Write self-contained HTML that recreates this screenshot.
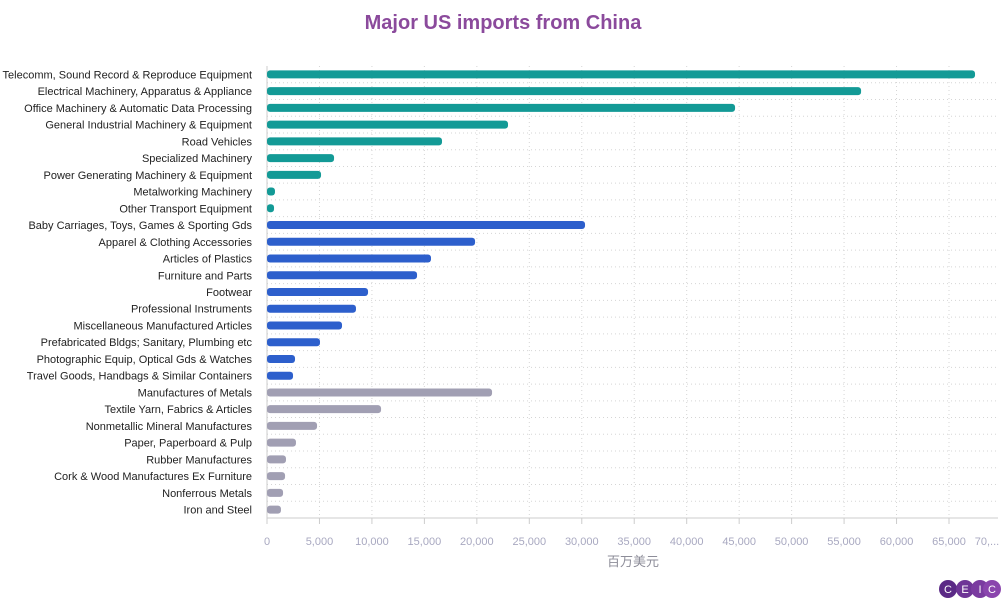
<!DOCTYPE html>
<html><head><meta charset="utf-8"><style>
body{margin:0;background:#fff;width:1003px;height:601px;overflow:hidden;font-family:"Liberation Sans","Noto Sans CJK SC",sans-serif}
</style></head><body>
<svg id="chart" width="1003" height="601">
<text x="503" y="29" text-anchor="middle" font-size="20" font-weight="bold" fill="#8b4a9c">Major US imports from China</text>
<text x="633" y="566" text-anchor="middle" font-size="13" fill="#8d8d99" font-family="'Liberation Sans','Noto Sans CJK SC',sans-serif">百万美元</text>
<g>
<circle cx="948" cy="589" r="9" fill="#5b2a86"/><circle cx="965" cy="589" r="9" fill="#6e3596"/><circle cx="980" cy="589" r="9" fill="#7a3ba0"/><circle cx="992" cy="589" r="9" fill="#8a45ad"/>
<text x="948" y="593" font-size="11" fill="#fff" text-anchor="middle">C</text><text x="965" y="593" font-size="11" fill="#fff" text-anchor="middle">E</text><text x="980" y="593" font-size="11" fill="#fff" text-anchor="middle">I</text><text x="992" y="593" font-size="11" fill="#fff" text-anchor="middle">C</text>
</g>
</svg>
<script>
const categories=["Telecomm, Sound Record & Reproduce Equipment","Electrical Machinery, Apparatus & Appliance","Office Machinery & Automatic Data Processing","General Industrial Machinery & Equipment","Road Vehicles","Specialized Machinery","Power Generating Machinery & Equipment","Metalworking Machinery","Other Transport Equipment","Baby Carriages, Toys, Games & Sporting Gds","Apparel & Clothing Accessories","Articles of Plastics","Furniture and Parts","Footwear","Professional Instruments","Miscellaneous Manufactured Articles","Prefabricated Bldgs; Sanitary, Plumbing etc","Photographic Equip, Optical Gds & Watches","Travel Goods, Handbags & Similar Containers","Manufactures of Metals","Textile Yarn, Fabrics & Articles","Nonmetallic Mineral Manufactures","Paper, Paperboard & Pulp","Rubber Manufactures","Cork & Wood Manufactures Ex Furniture","Nonferrous Metals","Iron and Steel"];
const values=[67480,56620,44610,22970,16680,6390,5150,760,670,30310,19830,15630,14300,9630,8480,7150,5050,2670,2480,21450,10870,4770,2760,1810,1720,1530,1330];
const groups=[0,0,0,0,0,0,0,0,0,1,1,1,1,1,1,1,1,1,1,2,2,2,2,2,2,2,2];
const groupColors=["#139a96","#2d5fcc","#a19fb3"];
const ticks=[0,5000,10000,15000,20000,25000,30000,35000,40000,45000,50000,55000,60000,65000,70000];
const tickLabels=["0","5,000","10,000","15,000","20,000","25,000","30,000","35,000","40,000","45,000","50,000","55,000","60,000","65,000","70,..."];
(function(){
const NS="http://www.w3.org/2000/svg",svg=document.getElementById('chart');
const x0=267,xR=998,pTop=66,axisY=518,pxPer=(949-267)/65000;
const X=v=>x0+v*pxPer;
const step=(axisY-pTop)/categories.length;
const Y=i=>pTop+step*(i+0.5);
function mk(t,a){const e=document.createElementNS(NS,t);for(const k in a)e.setAttribute(k,a[k]);svg.appendChild(e);return e;}
ticks.forEach((t,i)=>{
  const x=X(t);
  if(i>0&&x<=xR){const g=mk('line',{x1:x,x2:x,y1:pTop,y2:axisY,stroke:'#d5d5d5','stroke-dasharray':'1,3'});
  
  }
  if(x<=xR){const tk=mk('line',{x1:x,x2:x,y1:axisY,y2:axisY+6,stroke:'#ccc'});
  
  }
  const lx=Math.min(x,987);
  const l=mk('text',{x:lx,y:545,'text-anchor':'middle','font-size':11,fill:'#a8a8c0'});l.textContent=tickLabels[i];
  
  
});
for(let i=1;i<categories.length;i++){const y=pTop+step*i;const g=mk('line',{x1:x0,x2:xR,y1:y,y2:y,stroke:'#d5d5d5','stroke-dasharray':'1,3'});

}
const ax=mk('line',{x1:x0,x2:x0,y1:pTop,y2:axisY,stroke:'#ccc'});


const ax2=mk('line',{x1:x0,x2:xR,y1:axisY,y2:axisY,stroke:'#ccc'});


categories.forEach((c,i)=>{
  const y=Y(i);
  const l=mk('text',{x:252,y:y+4,'text-anchor':'end','font-size':11,fill:'#222'});l.textContent=c;
  
  
  const w=Math.max(X(values[i])-x0,2);
  const b=mk('rect',{x:x0,y:y-4,width:w,height:8,rx:3,fill:groupColors[groups[i]]});
  
  
});
})();
</script>
</body></html>
